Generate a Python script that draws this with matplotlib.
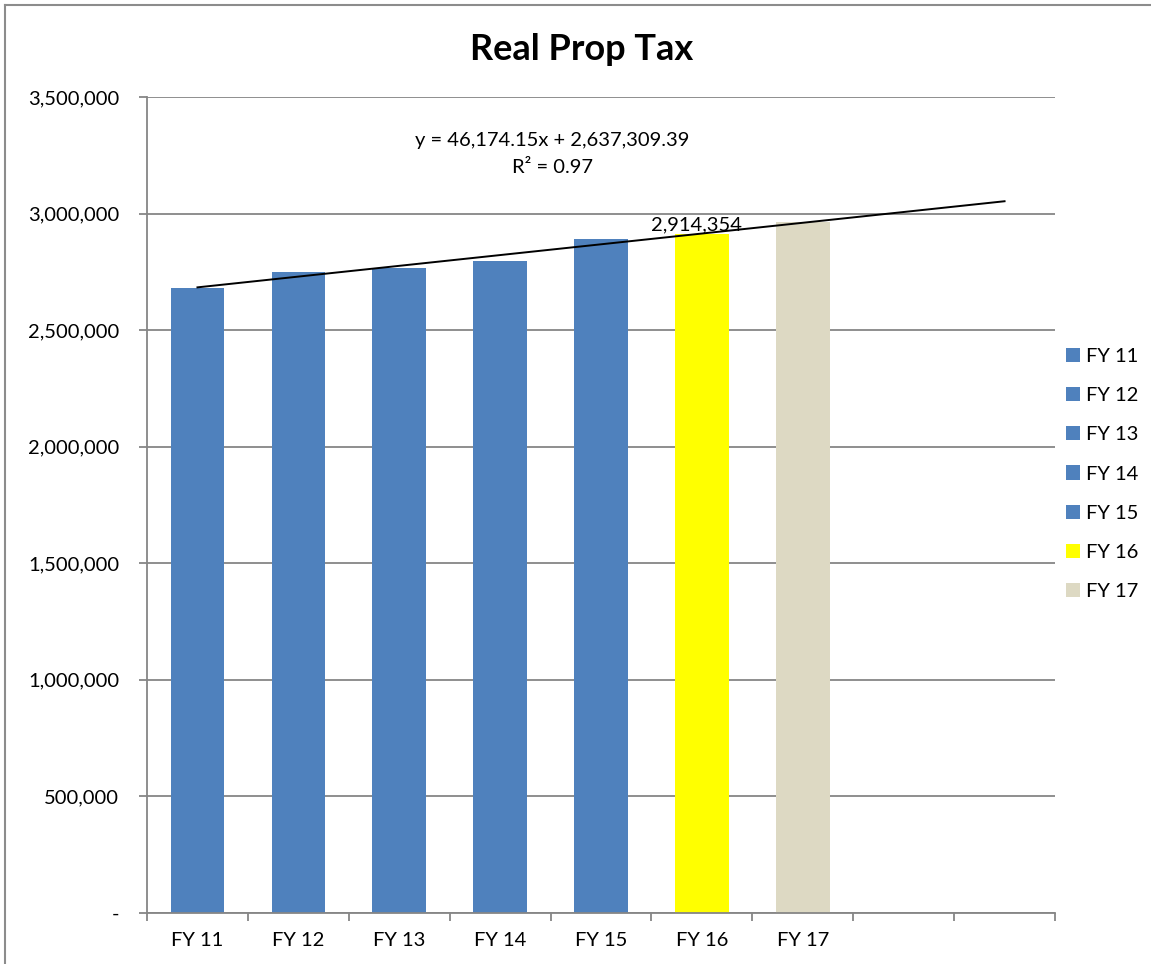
import numpy as np
import matplotlib.pyplot as plt
from matplotlib.lines import Line2D
from matplotlib.patches import Patch
from matplotlib.ticker import FuncFormatter, MultipleLocator

# Data
categories = ['FY 11', 'FY 12', 'FY 13', 'FY 14', 'FY 15', 'FY 16', 'FY 17']
values = [2681000, 2751000, 2765000, 2795000, 2891000, 2914354, 2962000]
colors = ['#4F81BD', '#4F81BD', '#4F81BD', '#4F81BD', '#4F81BD', '#FFFF00', '#DDD9C3']
n_slots = 9  # category axis has two empty slots after FY 17

# Linear trendline shown on the chart (fit on FY 11 - FY 16, forecast to slot 9)
trend_slope = 46174.15
trend_intercept = 2637309.39
trend_r2 = 0.97
trend_start, trend_end = 1, 9

plt.rcParams['font.family'] = ['Lato', 'DejaVu Sans']
grid_col = '#868686'


def y_fmt(v, pos):
    if v == 0:
        return '-'
    return f'{v:,.0f}'


def main():
    fig = plt.figure(figsize=(11.51, 9.64), dpi=100)
    ax = fig.add_axes([147 / 1151, 1 - 913 / 964, (1055 - 147) / 1151, (913 - 97) / 964])

    x = np.arange(1, len(values) + 1)
    for xi, v, c, lab in zip(x, values, colors, categories):
        ax.bar(xi, v, width=0.53, color=c, label=lab, zorder=2)

    # data label on FY 16
    i16 = categories.index('FY 16')
    ax.text(x[i16] - 0.05, values[i16] + 2000, f'{values[i16]:,}', ha='center', va='bottom',
            fontsize=14.5, zorder=4)

    # trendline
    tx = np.array([trend_start, trend_end])
    ax.plot(tx, trend_slope * tx + trend_intercept, color='black', lw=1.4, zorder=3)
    ax.text(4.52, 3.255e6, f'y = {trend_slope:,.2f}x + {trend_intercept:,.2f}\nR² = {trend_r2:.2f}',
            ha='center', va='center', fontsize=14.5, linespacing=1.75)

    ax.set_xlim(0.5, n_slots + 0.5)
    ax.set_ylim(0, 3.5e6)
    ax.yaxis.set_major_locator(MultipleLocator(500000))
    ax.yaxis.set_major_formatter(FuncFormatter(y_fmt))
    ax.grid(axis='y', color=grid_col, lw=1.3, zorder=0)
    ax.set_axisbelow(True)

    # category labels centred, tick marks at slot boundaries
    ax.set_xticks(np.arange(0.5, n_slots + 1, 1))
    ax.set_xticklabels([])
    ax.set_xticks(x, minor=True)
    ax.set_xticklabels(categories, minor=True)
    ax.tick_params(axis='x', which='major', length=6, color=grid_col, width=1.3, direction='out')
    ax.tick_params(axis='x', which='minor', length=0, labelsize=14.5, pad=14)
    ax.tick_params(axis='y', length=6, color=grid_col, width=1.3, labelsize=14.5, pad=14)

    for s in ['top', 'right']:
        ax.spines[s].set_visible(False)
    for s in ['left', 'bottom']:
        ax.spines[s].set_color(grid_col)
        ax.spines[s].set_linewidth(1.3)

    fig.suptitle('Real Prop Tax', x=582 / 1151, y=1 - 50 / 964, va='center',
                 fontsize=26, fontweight='bold')

    handles = [Patch(facecolor=c) for c in colors]
    fig.legend(handles, categories, loc='center left', bbox_to_anchor=(1062 / 1151, 1 - 474 / 964),
               frameon=False, fontsize=14.5, handlelength=0.7, handleheight=0.7,
               handletextpad=0.3, labelspacing=1.1, borderpad=0.2, borderaxespad=0)

    # chart area border (cropped at right and bottom)
    fig.add_artist(Line2D([5 / 1151, 1], [1 - 5 / 964, 1 - 5 / 964], color='#8c8c8c', lw=1.5))
    fig.add_artist(Line2D([5 / 1151, 5 / 1151], [0, 1 - 5 / 964], color='#8c8c8c', lw=1.5))

    fig.savefig('out.png', dpi=100)


if __name__ == "__main__":
    main()
